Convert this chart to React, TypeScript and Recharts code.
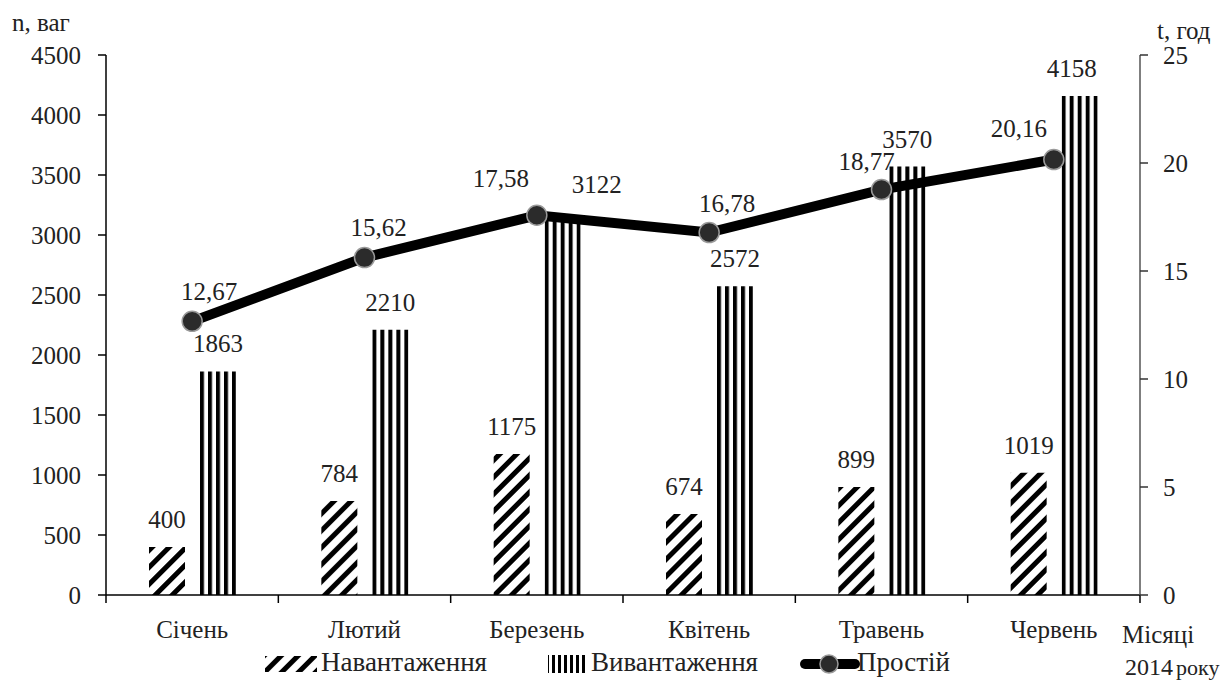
import React from 'react';
import { ComposedChart, Bar, Line, XAxis, YAxis, LabelList } from 'recharts';

const W = 1221;
const H = 682;
const FONT = "'Liberation Serif', 'DejaVu Serif', 'Times New Roman', serif";
const TXT = '#222';

const months = ['Січень', 'Лютий', 'Березень', 'Квітень', 'Травень', 'Червень'];
const loadingWagons = [400, 784, 1175, 674, 899, 1019];
const unloadingWagons = [1863, 2210, 3122, 2572, 3570, 4158];
const idleHours = [12.67, 15.62, 17.58, 16.78, 18.77, 20.16];
const leftTicks = [0, 500, 1000, 1500, 2000, 2500, 3000, 3500, 4000, 4500];
const rightTicks = [0, 5, 10, 15, 20, 25];
const boundaryTicks = [-0.5, 0.5, 1.5, 2.5, 3.5, 4.5, 5.5];

const data = months.map((month, i) => ({
  month,
  pos: i,
  loading: loadingWagons[i],
  unloading: unloadingWagons[i],
  idle: idleHours[i],
}));

const fmt = (v: number) => String(v).replace('.', ',');

// label nudges (relative to library-computed positions)
const lineDx = [17, 14, -36, 18, -15, -35];
const lineDy = [-21, -22, -28, -21, -20, -23];
const unloadDx = [0, 0, 34, 0, 0, -8];
const unloadDy = [0, 0, -8, 0, 0, 0];

const textStyle: React.CSSProperties = { fontFamily: FONT, fontSize: 25 };

const LineLabel = (p: any) => {
  const vb = p.viewBox || {};
  const x = p.x ?? vb.x;
  const y = p.y ?? vb.y;
  const i = p.index ?? 0;
  return (
    <text x={x + lineDx[i]} y={y + lineDy[i]} textAnchor="middle" style={textStyle} fill={TXT}>
      {fmt(p.value)}
    </text>
  );
};

const makeBarLabel = (dxs: number[] | null, dys: number[] | null) => (p: any) => {
  const vb = p.viewBox || {};
  const x = (p.x ?? vb.x) + (p.width ?? vb.width) / 2;
  const y = p.y ?? vb.y;
  const i = p.index ?? 0;
  return (
    <text
      x={x + (dxs ? dxs[i] : 0)}
      y={y - 19 + (dys ? dys[i] : 0)}
      textAnchor="middle"
      style={textStyle}
      fill={TXT}
    >
      {p.value}
    </text>
  );
};

const EmptyTick = () => <g />;

const tickStyle = { fontSize: 25, fontFamily: FONT, fill: TXT, style: { fontFamily: FONT } };

export default function App() {
  return (
    <div style={{ position: 'absolute', left: 0, top: 0, width: W, height: H, background: '#fff', fontFamily: FONT }}>
      <svg width={0} height={0} style={{ position: 'absolute' }}>
        <defs>
          <pattern id="hatch" patternUnits="userSpaceOnUse" width={12} height={12} patternTransform="rotate(45)">
            <rect x={0} y={0} width={5} height={12} fill="#000" />
          </pattern>
          <pattern id="vstripes" patternUnits="objectBoundingBox" patternContentUnits="objectBoundingBox" width={0.2225} height={1}>
            <rect x={0} y={0} width={0.11} height={1} fill="#000" />
          </pattern>
          <pattern id="vstripesIcon" patternUnits="userSpaceOnUse" width={6} height={20}>
            <rect x={0} y={0} width={3} height={20} fill="#000" />
          </pattern>
        </defs>
      </svg>
      <ComposedChart
        width={W}
        height={H}
        data={data}
        margin={{ top: 55, right: 21, bottom: 26, left: 46 }}
        barSize={36}
        barGap={15}
        style={{ fontFamily: FONT }}
      >
        <XAxis
          xAxisId="m"
          dataKey="month"
          height={60}
          tickLine={false}
          tickSize={7}
          tickMargin={17}
          axisLine={false}
          tick={tickStyle}
          interval={0}
        />
        <XAxis
          xAxisId="a"
          type="number"
          dataKey="pos"
          domain={[-0.5, 5.5]}
          ticks={boundaryTicks}
          tick={EmptyTick}
          tickSize={8}
          tickLine={{ stroke: '#000', strokeWidth: 1.5 }}
          axisLine={{ stroke: '#000', strokeWidth: 1.5 }}
          height={1}
          allowDataOverflow
        />
        <YAxis
          yAxisId="left"
          width={60}
          domain={[0, 4500]}
          ticks={leftTicks}
          tickSize={8}
          tickMargin={17}
          axisLine={{ stroke: '#000', strokeWidth: 1.5 }}
          tickLine={{ stroke: '#000', strokeWidth: 1.5 }}
          tick={tickStyle}
          interval={0}
        />
        <YAxis
          yAxisId="right"
          orientation="right"
          width={60}
          domain={[0, 25]}
          ticks={rightTicks}
          tickSize={8}
          tickMargin={15}
          axisLine={{ stroke: '#555', strokeWidth: 1.5 }}
          tickLine={{ stroke: '#333', strokeWidth: 1.5 }}
          tick={{ ...tickStyle, textAnchor: 'start' }}
          interval={0}
        />
        <Bar xAxisId="m" yAxisId="left" dataKey="loading" fill="url(#hatch)" isAnimationActive={false}>
          <LabelList dataKey="loading" content={makeBarLabel(null, null)} />
        </Bar>
        <Bar xAxisId="m" yAxisId="left" dataKey="unloading" fill="url(#vstripes)" isAnimationActive={false}>
          <LabelList dataKey="unloading" content={makeBarLabel(unloadDx, unloadDy)} />
        </Bar>
        <Line
          xAxisId="m"
          yAxisId="right"
          dataKey="idle"
          stroke="#000"
          strokeWidth={10}
          dot={{ r: 10, fill: '#2b2b2b', stroke: '#9a9a9a', strokeWidth: 1.5 }}
          activeDot={false}
          isAnimationActive={false}
        >
          <LabelList dataKey="idle" content={LineLabel} />
        </Line>
      </ComposedChart>
      <svg
        width={W}
        height={H}
        style={{ position: 'absolute', left: 0, top: 0, pointerEvents: 'none', fontFamily: FONT, fontSize: 25 }}
        fill={TXT}
      >
        <text x={12} y={31}>n, ваг</text>
        <text x={1157} y={39}>t, год</text>
        <text x={1122} y={643}>Місяці</text>
        <text x={1125} y={675} style={{ fontSize: 24 }}>2014</text>
        <text x={1176} y={675} style={{ fontSize: 22 }}>року</text>
        <g style={{ fontSize: 27 }}>
          <rect x={265} y={656} width={52} height={16} fill="url(#hatch)" />
          <text x={321} y={671}>Навантаження</text>
          <rect x={548} y={655} width={40} height={18} fill="url(#vstripesIcon)" />
          <text x={591} y={671}>Вивантаження</text>
          <line x1={805} y1={664} x2={855} y2={664} stroke="#000" strokeWidth={10} strokeLinecap="round" />
          <circle cx={829} cy={664} r={9} fill="#2b2b2b" stroke="#9a9a9a" strokeWidth={1.5} />
          <text x={857} y={671}>Простій</text>
        </g>
      </svg>
    </div>
  );
}
